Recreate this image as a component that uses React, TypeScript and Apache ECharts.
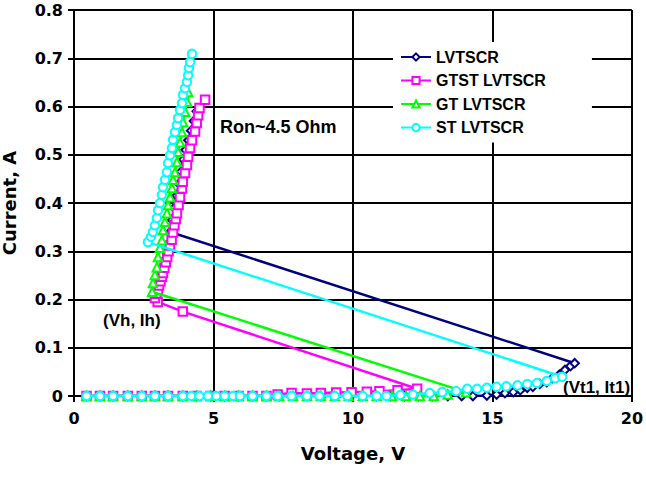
import React, { useEffect, useRef } from "react";
import * as echarts from "echarts";

// ---- Data ----
const seriesNames = ["LVTSCR", "GTST LVTSCR", "GT LVTSCR", "ST LVTSCR"];

const lvtscrV = [
  0.45, 0.93, 1.4, 1.93, 2.43, 2.9, 3.37, 3.9, 4.4, 4.9, 5.4, 5.9, 6.4, 6.9, 7.35, 7.85, 8.35, 8.85, 9.35, 9.85,
  10.35, 10.85, 11.35, 11.85, 12.35, 12.85, 13.4, 13.9, 14.3, 14.8,
  15.15, 15.45, 15.75, 16.0, 16.25, 16.45, 16.7, 16.95, 17.15, 17.4, 17.6, 17.8, 17.95,
  3.45, 3.52, 3.6, 3.68, 3.76, 3.84, 3.92, 4.0, 4.1, 4.2, 4.3, 4.4,
];
const lvtscrI = [
  0, 0, 0, 0, 0, 0, 0, 0, 0, 0, 0, 0, 0, 0, 0, 0, 0, 0, 0, 0,
  0, 0, 0, 0, 0, 0, 0, 0, 0, 0.001,
  0.003, 0.006, 0.008, 0.012, 0.017, 0.019, 0.025, 0.029, 0.037, 0.044, 0.054, 0.062, 0.068,
  0.34, 0.365, 0.39, 0.415, 0.44, 0.465, 0.49, 0.51, 0.53, 0.55, 0.57, 0.59,
];

const gtstV = [
  0.45, 0.93, 1.4, 1.93, 2.43, 2.9, 3.37, 3.9, 4.4, 4.9, 5.4, 5.9, 6.4, 6.9,
  7.3, 7.8, 8.35, 8.85, 9.4, 9.95, 10.5, 10.95, 11.6, 12.3,
  3.9, 3.0,
  2.9, 2.95, 3.01, 3.05, 3.1, 3.15, 3.19, 3.24, 3.29, 3.34, 3.39, 3.44, 3.5, 3.55, 3.6, 3.65,
  3.69, 3.75, 3.8, 3.87, 3.9, 3.98, 4.05, 4.09, 4.16, 4.23, 4.34, 4.4, 4.45, 4.5, 4.7,
];
const gtstI = [
  0, 0, 0, 0, 0, 0, 0, 0, 0, 0, 0, 0, 0, 0,
  0.003, 0.006, 0.005, 0.006, 0.007, 0.008, 0.009, 0.01, 0.012, 0.015,
  0.175, 0.195,
  0.203, 0.212, 0.22, 0.229, 0.238, 0.247, 0.255, 0.266, 0.277, 0.288, 0.3, 0.312, 0.324, 0.339, 0.354, 0.367,
  0.379, 0.396, 0.412, 0.43, 0.444, 0.462, 0.479, 0.496, 0.514, 0.53, 0.548, 0.566, 0.582, 0.597, 0.614,
];

const gtV = [
  0.45, 0.93, 1.4, 1.93, 2.43, 2.9, 3.37, 3.9, 4.4, 4.9, 5.4, 5.9, 6.4, 6.9, 7.35, 7.85, 8.35, 8.85, 9.35, 9.85,
  10.35, 10.85, 11.4, 11.9, 12.4, 12.9, 13.4, 14.05,
  2.8, 2.83, 2.9, 2.97, 3.01, 3.08, 3.15, 3.19, 3.26, 3.33, 3.37, 3.44, 3.51, 3.55, 3.62, 3.69,
  3.73, 3.8, 3.87, 3.91, 3.98, 4.05, 4.09,
];
const gtI = [
  0, 0, 0, 0, 0, 0, 0, 0, 0, 0, 0, 0, 0, 0, 0, 0, 0, 0, 0, 0,
  0, 0, 0, 0, 0, 0, 0.003, 0.008,
  0.216, 0.234, 0.251, 0.267, 0.288, 0.307, 0.323, 0.344, 0.361, 0.379, 0.396, 0.412, 0.431, 0.448, 0.464, 0.485,
  0.506, 0.526, 0.547, 0.568, 0.589, 0.61, 0.63,
];

const stV = [
  0.45, 0.93, 1.4, 1.93, 2.43, 2.9, 3.37, 3.9, 4.2, 4.5, 4.8, 5.1, 5.4, 5.7, 5.95, 6.4, 6.9, 7.3, 7.8, 8.35,
  8.8, 9.35, 9.8, 10.35, 10.85, 11.2, 11.7, 12.15, 12.75, 13.2, 13.7, 14.1, 14.45, 14.8, 15.15, 15.5,
  15.9, 16.25, 16.6, 16.95, 17.25, 17.5,
  2.65, 2.76, 2.83, 2.9, 2.97, 3.01, 3.08, 3.15, 3.19, 3.26, 3.33, 3.37, 3.44, 3.51, 3.55, 3.62, 3.69,
  3.73, 3.8, 3.87, 3.91, 3.98, 4.05, 4.09, 4.12, 4.16, 4.23,
];
const stI = [
  0, 0, 0, 0, 0, 0, 0, 0, 0, 0, 0, 0, 0, 0, 0, 0, 0, 0, 0, 0,
  0, 0, 0, 0, 0, 0, 0.002, 0.003, 0.006, 0.008, 0.01, 0.015, 0.015, 0.017, 0.019, 0.02,
  0.022, 0.025, 0.027, 0.031, 0.037, 0.04,
  0.319, 0.33, 0.34, 0.354, 0.369, 0.385, 0.4, 0.417, 0.433, 0.448, 0.464, 0.483, 0.499, 0.514, 0.531, 0.547, 0.562,
  0.576, 0.593, 0.607, 0.624, 0.638, 0.651, 0.665, 0.68, 0.692, 0.709,
];

const seriesColors = ["#000080", "#ff00ff", "#00ff00", "#00ffff"];
const seriesSymbols = ["emptyDiamond", "emptyRect", "emptyTriangle", "emptyCircle"];

const xAxisTitle = "Voltage, V";
const yAxisTitle = "Current, A";
const annotations = ["Ron~4.5 Ohm", "(Vh, Ih)", "(Vt1, It1)"];

const zip = (v: number[], i: number[]) => v.map((x, k) => [x, i[k]]);

export default function App() {
  const ref = useRef<HTMLDivElement>(null);
  useEffect(() => {
    document.body.style.margin = "0";
    if (!ref.current) return;
    const chart = echarts.init(ref.current, undefined, { renderer: "svg" });
    const dataSets = [zip(lvtscrV, lvtscrI), zip(gtstV, gtstI), zip(gtV, gtI), zip(stV, stI)];
    const tickFont = { fontFamily: "DejaVu Sans", fontWeight: "bold" as const, fontSize: 16, color: "#000" };
    const labelFont = { fontFamily: "Liberation Sans", fontWeight: "bold", fill: "#000" };
    chart.setOption({
      animation: false,
      backgroundColor: "#fff",
      grid: { left: 74, right: 14, top: 10, bottom: 104, containLabel: false },
      xAxis: {
        type: "value",
        min: 0,
        max: 20,
        interval: 5,
        axisLine: { show: true, lineStyle: { color: "#000", width: 2 } },
        axisTick: { show: true, inside: false, length: 6, lineStyle: { color: "#000", width: 2 } },
        splitLine: { show: true, lineStyle: { color: "#000", width: 2 } },
        axisLabel: { ...tickFont, margin: 14 },
      },
      yAxis: {
        type: "value",
        min: 0,
        max: 0.8,
        interval: 0.1,
        axisLine: { show: true, lineStyle: { color: "#000", width: 2 } },
        axisTick: { show: true, inside: false, length: 6, lineStyle: { color: "#000", width: 2 } },
        splitLine: { show: true, lineStyle: { color: "#000", width: 2 } },
        axisLabel: { ...tickFont, margin: 11 },
      },
      legend: {
        data: seriesNames,
        orient: "vertical",
        left: 393,
        top: 42,
        padding: [7, 46, 7, 7],
        itemWidth: 30,
        itemHeight: 9,
        itemGap: 7.5,
        backgroundColor: "#fff",
        selectedMode: false,
        textStyle: { fontFamily: "Liberation Sans", fontWeight: "bold", fontSize: 16, color: "#000", lineHeight: 16 },
      },
      series: seriesNames.map((name, k) => ({
        name,
        type: "line",
        data: dataSets[k],
        symbol: seriesSymbols[k],
        symbolSize: 8.5,
        showSymbol: true,
        lineStyle: { color: seriesColors[k], width: 2.5 },
        itemStyle: { color: seriesColors[k], borderWidth: 1.6 },
        emphasis: { disabled: true },
        z: 2 + k,
      })),
      graphic: [
        { type: "text", x: 220, y: 127, style: { text: annotations[0], ...labelFont, fontSize: 18, verticalAlign: "middle", align: "left" } },
        { type: "text", x: 103, y: 320, style: { text: annotations[1], ...labelFont, fontSize: 17, verticalAlign: "middle", align: "left" } },
        { type: "text", x: 563, y: 387, style: { text: annotations[2], ...labelFont, fontSize: 17, verticalAlign: "middle", align: "left" } },
        { type: "text", x: 353, y: 453, style: { text: xAxisTitle, fontFamily: "DejaVu Sans", fontWeight: "bold", fontSize: 18, fill: "#000", verticalAlign: "middle", align: "center" } },
        { type: "text", x: 9, y: 203, rotation: Math.PI / 2, style: { text: yAxisTitle, fontFamily: "DejaVu Sans", fontWeight: "bold", fontSize: 18, fill: "#000", verticalAlign: "middle", align: "center" } },
      ],
    });
    return () => chart.dispose();
  }, []);
  return <div ref={ref} style={{ width: 646, height: 500 }} />;
}
